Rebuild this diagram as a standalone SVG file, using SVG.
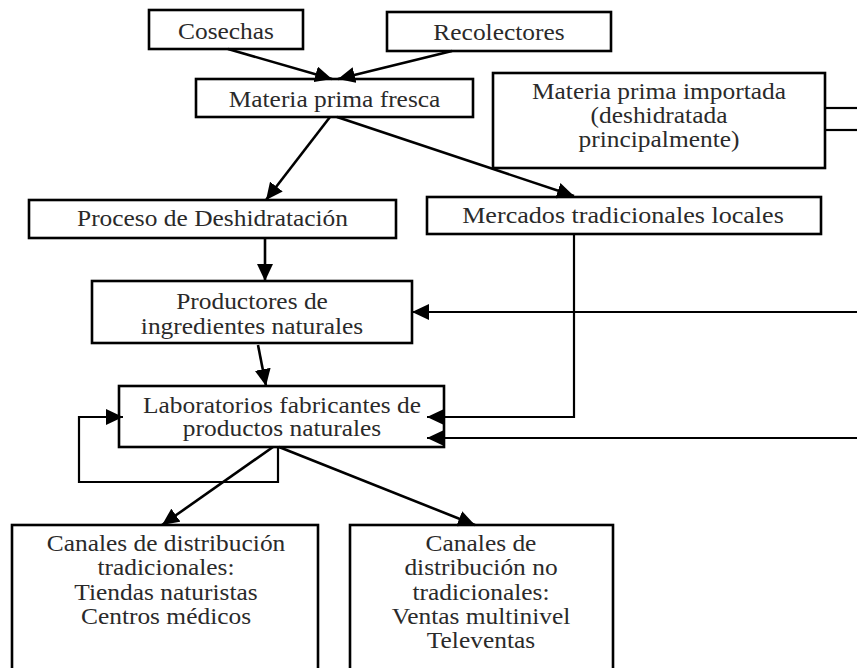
<svg xmlns="http://www.w3.org/2000/svg" width="857" height="668" viewBox="0 0 857 668">
  <defs>
    <marker id="arrow" markerUnits="userSpaceOnUse" markerWidth="17" markerHeight="16" viewBox="0 0 17 16" refX="17" refY="8" orient="auto">
      <path d="M0,0 L17,8 L0,16 z" fill="#000"/>
    </marker>
    <style>
      .box { fill: #fff; stroke: #000; stroke-width: 2.6; }
      .lbl { font-family: "Liberation Serif", "Times New Roman", serif; font-size: 22.5px; fill: #2a2a2a; text-anchor: middle; }
      .edge { fill: none; stroke: #000; stroke-width: 2.6; }
      .thin { fill: none; stroke: #000; stroke-width: 2.2; }
    </style>
  </defs>
  <rect width="857" height="668" fill="#fff"/>

  <g id="cosechas">
    <rect class="box" x="149" y="10" width="154" height="39"/>
    <text class="lbl" transform="translate(226 39) scale(1.13 1)">Cosechas</text>
  </g>

  <g id="recolectores">
    <rect class="box" x="387" y="12" width="224" height="39"/>
    <text class="lbl" transform="translate(499 40) scale(1.13 1)">Recolectores</text>
  </g>

  <g id="materia-prima-fresca">
    <rect class="box" x="196" y="79" width="277" height="38"/>
    <text class="lbl" transform="translate(334.5 107) scale(1.13 1)">Materia prima fresca</text>
  </g>

  <g id="materia-prima-importada">
    <rect class="box" x="493" y="73" width="332" height="95"/>
    <text class="lbl" transform="translate(659 99) scale(1.13 1)">Materia prima importada</text>
    <text class="lbl" transform="translate(659 123) scale(1.13 1)">(deshidratada</text>
    <text class="lbl" transform="translate(659 147) scale(1.13 1)">principalmente)</text>
  </g>

  <g id="proceso-deshidratacion">
    <rect class="box" x="29" y="200" width="367" height="38"/>
    <text class="lbl" transform="translate(212.5 226) scale(1.13 1)">Proceso de Deshidratación</text>
  </g>

  <g id="mercados-locales">
    <rect class="box" x="427" y="197" width="394" height="37"/>
    <text class="lbl" transform="translate(623 223) scale(1.16 1)">Mercados tradicionales locales</text>
  </g>

  <g id="productores">
    <rect class="box" x="92" y="281" width="320" height="62"/>
    <text class="lbl" transform="translate(252 309) scale(1.13 1)">Productores de</text>
    <text class="lbl" transform="translate(252 334) scale(1.13 1)">ingredientes naturales</text>
  </g>

  <g id="laboratorios">
    <rect class="box" x="119" y="386" width="325" height="61"/>
    <text class="lbl" transform="translate(282 413) scale(1.13 1)">Laboratorios fabricantes de</text>
    <text class="lbl" transform="translate(282 436) scale(1.13 1)">productos naturales</text>
  </g>

  <g id="canales-tradicionales">
    <rect class="box" x="12" y="525" width="306" height="160"/>
    <text class="lbl" transform="translate(166 551) scale(1.13 1)">Canales de distribución</text>
    <text class="lbl" transform="translate(166 575) scale(1.13 1)">tradicionales:</text>
    <text class="lbl" transform="translate(166 600) scale(1.13 1)">Tiendas naturistas</text>
    <text class="lbl" transform="translate(166 624) scale(1.13 1)">Centros médicos</text>
  </g>

  <g id="canales-no-tradicionales">
    <rect class="box" x="350" y="525" width="263" height="160"/>
    <text class="lbl" transform="translate(481 551) scale(1.13 1)">Canales de</text>
    <text class="lbl" transform="translate(481 575) scale(1.13 1)">distribución no</text>
    <text class="lbl" transform="translate(481 600) scale(1.13 1)">tradicionales:</text>
    <text class="lbl" transform="translate(481 624) scale(1.13 1)">Ventas multinivel</text>
    <text class="lbl" transform="translate(481 648) scale(1.13 1)">Televentas</text>
  </g>

  <!-- connectors, drawn last so heads that sit inside a box stay visible -->
  <g id="connectors">
    <line class="edge" x1="228" y1="49" x2="332" y2="79" marker-end="url(#arrow)"/>
    <line class="edge" x1="452" y1="51" x2="338" y2="79" marker-end="url(#arrow)"/>
    <line class="edge" x1="330" y1="117" x2="266" y2="200" marker-end="url(#arrow)"/>
    <line class="edge" x1="337" y1="117" x2="574" y2="196" marker-end="url(#arrow)"/>
    <line class="edge" x1="265" y1="238" x2="265" y2="281" marker-end="url(#arrow)"/>
    <line class="edge" x1="258" y1="345" x2="266" y2="386" marker-end="url(#arrow)"/>
    <line class="thin" x1="857" y1="312" x2="412" y2="312" marker-end="url(#arrow)"/>
    <polyline class="thin" points="574,234 574,417 427,417" marker-end="url(#arrow)"/>
    <line class="thin" x1="857" y1="438" x2="427" y2="438" marker-end="url(#arrow)"/>
    <polyline class="thin" points="278,447 278,482 79,482 79,417 123,417" marker-end="url(#arrow)"/>
    <line class="edge" x1="273" y1="447" x2="162" y2="525" marker-end="url(#arrow)"/>
    <line class="edge" x1="279" y1="447" x2="475" y2="525" marker-end="url(#arrow)"/>
    <line class="thin" x1="825" y1="108" x2="857" y2="108"/>
    <line class="thin" x1="825" y1="130" x2="857" y2="130"/>
  </g>
</svg>
